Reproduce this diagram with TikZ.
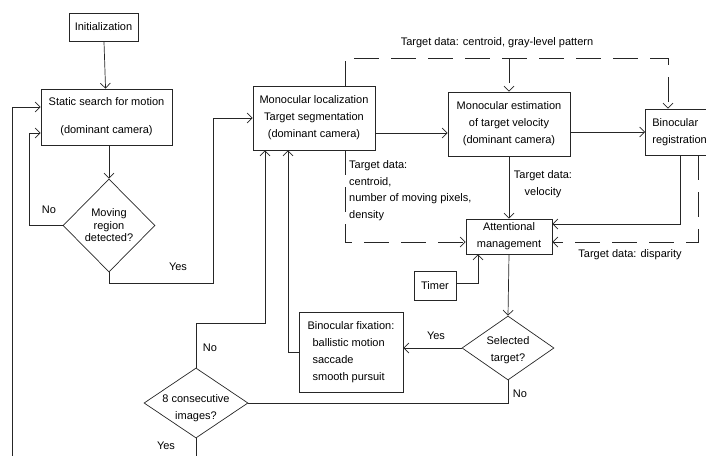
\documentclass[tikz,border=0pt]{standalone}
\usepackage{fontspec}
\setmainfont{Liberation Sans}
\usetikzlibrary{calc,shapes.geometric,arrows.meta}
\newcommand{\Lw}{0.7pt}
\tikzset{Box/.style={
    draw=black!85,
    line width=\Lw,
    inner sep=0pt,
    align=center
    },
    Choice/.style={
    draw=black!85,
    line width=\Lw,
    diamond,
    inner sep=0pt
    },
    Link/.style={
    draw=black!85,
    line width=\Lw,
    -{Straight Barb[length=5pt,width=10pt]}
    },
    Plain/.style={
    draw=black!85,
    line width=\Lw
    },
    DashLink/.style={
    Link,
    dash pattern=on 25pt off 12pt
    },
    Label/.style={inner sep=0pt, align=left},
    font={\fontsize{11pt}{17pt}\selectfont}
}

\begin{document}
\begin{tikzpicture}[x=1pt,y=-1pt]
\useasboundingbox (0,0) rectangle (706,455);
\clip (0,0) rectangle (706,455);
% boxes
\node [Box, minimum width=69, minimum height=28] (init) at (103.5,27) {Initialization};
\node [Box, minimum width=131, minimum height=56] (static) at (106.5,117) {Static search for motion\\[11pt](dominant camera)};
\node [Box, minimum width=122, minimum height=64] (loc) at (314,118) {Monocular localization\\Target segmentation\\(dominant camera)};
\node [Box, minimum width=122, minimum height=64] (est) at (509,124) {Monocular estimation\\of target velocity\\(dominant camera)};
\node [Box, anchor=west, text width=62, inner xsep=7pt, minimum height=46, align=left] (binoc) at (645,132) {Binocular\\registration};
\node [Box, minimum width=86, minimum height=35] (attn) at (509,236.5) {Attentional\\management};
\node [Box, minimum width=42, minimum height=29] (timer) at (435,285.5) {Timer};
\node [Box, minimum width=104, minimum height=80, align=left] (fix) at (351,352) {Binocular fixation:\\\hspace*{5pt}ballistic motion\\\hspace*{5pt}saccade\\\hspace*{5pt}smooth pursuit};
% decisions
\node [Choice, minimum width=92, minimum height=93, label={[align=center, font={\fontsize{11pt}{12.5pt}\selectfont}]center:Moving\\region\\detected?}] (moving) at (109,225.5) {};
\node [Choice, minimum width=92, minimum height=64, label={[align=center, yshift=-2pt]center:Selected\\target?}] (sel) at (508,348) {};
\node [Choice, minimum width=104, minimum height=70, label={[align=center, yshift=-5pt]center:8 consecutive\\images?}] (consec) at (196,403) {};
% turning points
\coordinate (noTurn) at (29,133);
\coordinate (yesTurn) at (213,283);
\coordinate (dashTL) at (345,58);
\coordinate (dashTR) at (668,58);
\coordinate (dashBL) at (345,242);
\coordinate (regSolid) at (680,224);
\coordinate (regDash) at (698,242);
\coordinate (timerTurn) at (478,283);
\coordinate (selNo) at (508,403);
\coordinate (fixTurn) at (288,352);
\coordinate (consecNo) at (265,323);
\coordinate (loopBL) at (12,465);
\coordinate (loopTL) at (12,107);
% connectors
\draw [Link] (init) -- (static);
\draw [Link] (moving.north |- static.south) -- (moving.north);
\draw [Link] (moving.west) -| (noTurn) -- (noTurn -| static.west);
\draw [Link] (moving.south) |- (yesTurn) |- (loc.west);
\draw [Link] (loc.east |- 0,133) -- (est.west |- 0,133);
\draw [Link] (est.east |- binoc.west) -- (binoc.west);
\draw [DashLink] (loc.north -| dashTL) -- (dashTL) -- (dashTR) -- (dashTR |- binoc.north);
\draw [DashLink] (est.north |- dashTL) -- (est.north);
\draw [Link] (est.south) -- (attn.north);
\draw [DashLink] (loc.south -| dashBL) -- (dashBL) -- (dashBL -| attn.west);
\draw [Link] (binoc.south -| regSolid) -- (regSolid) -- (regSolid -| attn.east);
\draw [DashLink] (binoc.south -| regDash) -- (regDash) -- (regDash -| attn.east);
\draw [Link] (timer.east |- timerTurn) -- (timerTurn) -- (timerTurn |- attn.south);
\draw [Link] (attn.south) -- (sel.north);
\draw [Link] (sel.west) -- (sel.west -| fix.east);
\draw [Plain] (sel.south) -- (selNo) -- (consec.east);
\draw [Link] (fix.west) -- (fixTurn) -- (fixTurn |- loc.south);
\draw [Link] (consec.north) |- (consecNo) -- (consecNo |- loc.south);
\draw [Link] (consec.south) |- (loopBL) -- (loopTL) -- (loopTL -| static.west);
% labels
\node [Label] (lblNo1) at (49,210) {No};
\node [Label] (lblYes1) at (178,267) {Yes};
\node [Label, align=center] (lblTop) at (497,43) {Target data: centroid, gray-level pattern};
\node [Label, anchor=west, font={\fontsize{11pt}{16.5pt}\selectfont}] (lblLoc) at (349,190.5) {Target data:\\centroid,\\number of moving pixels,\\density};
\node [Label, align=center] (lblVel) at (543,184) {Target data:\\velocity};
\node [Label] (lblDisp) at (630,255) {Target data: disparity};
\node [Label] (lblYes2) at (436,336) {Yes};
\node [Label] (lblNo2) at (520,394) {No};
\node [Label] (lblNo3) at (210,348) {No};
\node [Label] (lblYes3) at (166,446) {Yes};
\end{tikzpicture}
\end{document}
